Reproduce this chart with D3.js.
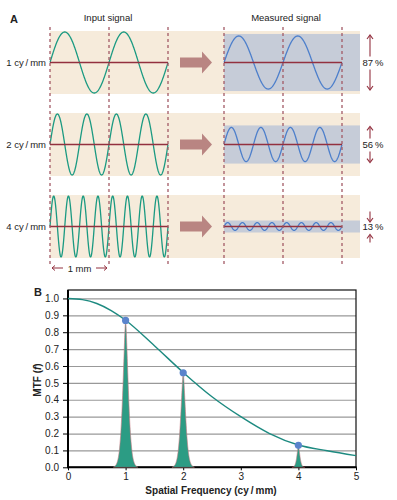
<!DOCTYPE html>
<meta charset="utf-8">
<style>
body { margin: 0; background: #fff; }
text { font-family: "Liberation Sans", Arial, sans-serif; fill: #222; }
.grid line { stroke: #999; stroke-width: 1.2px; }
.grid path { display: none; }
.axis path { display: none; }
.axis line { stroke: #000; }
</style>
<svg width="397" height="500"></svg>
<script src="https://cdn.jsdelivr.net/npm/d3@7"></script>
<script>
// ---- data ----
var freqs = [1, 2, 4];                        // cy/mm, rows of panel A
var rowLabels = ["1 cy\u2009/\u2009mm", "2 cy\u2009/\u2009mm", "4 cy\u2009/\u2009mm"];
var mtfAtFreq = [0.87, 0.56, 0.13];
var pctLabels = ["87\u2009%", "56\u2009%", "13\u2009%"];
var mtfX = [0, 0.25, 0.5, 0.75, 1, 1.5, 2, 2.5, 3, 3.5, 4, 4.5, 5];
var mtfY = [1.0, 0.993, 0.97, 0.928, 0.871, 0.72, 0.562, 0.418, 0.30, 0.20, 0.132, 0.098, 0.069];
var spikeWidth = [0.065, 0.06, 0.035];        // shape of the peaks in B
var yTicks = [0, 0.1, 0.2, 0.3, 0.4, 0.5, 0.6, 0.7, 0.8, 0.9, 1.0];
var xTicks = [0, 1, 2, 3, 4, 5];

var svg = d3.select("svg");
var teal = "#1b9a82", blue = "#4d7fcb", dark = "#93303f", dash = "#a35a66";

// ---- panel A ----
var xIn = d3.scaleLinear().domain([0, 2]).range([50, 168]);
var xOut = d3.scaleLinear().domain([0, 2]).range([224, 342]);
var rowY = d3.scalePoint().domain(freqs).range([62.5, 226.5]);
var amp = d3.scaleLinear().domain([-1, 1]).range([30.5, -30.5]);

svg.append("text").attr("x", 10).attr("y", 23).text("A")
  .style("font-weight", "bold").style("font-size", "11px");
svg.append("text").attr("x", 108).attr("y", 21).attr("text-anchor", "middle")
  .style("font-size", "9.5px").text("Input signal");
svg.append("text").attr("x", 286).attr("y", 21).attr("text-anchor", "middle")
  .style("font-size", "9.5px").text("Measured signal");

var rows = svg.selectAll(".row").data(freqs).enter().append("g").attr("class", "row");

rows.append("rect")
  .attr("x", 50).attr("width", 310)
  .attr("y", function(d) { return rowY(d) - 31.5; }).attr("height", 63)
  .attr("fill", "#f6ebdb");

rows.append("rect")
  .attr("x", 224).attr("width", 136)
  .attr("y", function(d, i) { return rowY(d) + amp(mtfAtFreq[i]) - Math.max(2, 6 - 30.5 * mtfAtFreq[i]); })
  .attr("height", function(d, i) { return 2 * (30.5 * mtfAtFreq[i] + Math.max(2, 6 - 30.5 * mtfAtFreq[i])); })
  .attr("fill", "#c6ccd8");

var t = d3.range(0, 2.0001, 0.005);

rows.append("path")
  .attr("fill", "none").attr("stroke", teal).attr("stroke-width", 1.3)
  .attr("d", function(f) {
    return d3.line().x(function(v) { return xIn(v); })
      .y(function(v) { return rowY(f) + amp(Math.sin(2 * Math.PI * f * v)) - amp(0); })(t);
  });

rows.append("path")
  .attr("fill", "none").attr("stroke", blue).attr("stroke-width", 1.3)
  .attr("d", function(f, i) {
    return d3.line().x(function(v) { return xOut(v); })
      .y(function(v) { return rowY(f) + amp(mtfAtFreq[i] * Math.sin(2 * Math.PI * f * v)) - amp(0); })(t);
  });

rows.append("line").attr("x1", xIn(0)).attr("x2", xIn(2))
  .attr("y1", function(d) { return rowY(d); }).attr("y2", function(d) { return rowY(d); })
  .attr("stroke", dark).attr("stroke-width", 1.3);
rows.append("line").attr("x1", xOut(0)).attr("x2", xOut(2))
  .attr("y1", function(d) { return rowY(d); }).attr("y2", function(d) { return rowY(d); })
  .attr("stroke", dark).attr("stroke-width", 1.3);

rows.append("text").attr("x", 46).attr("y", function(d) { return rowY(d) + 3.5; })
  .attr("text-anchor", "end").style("font-size", "9.5px")
  .text(function(d, i) { return rowLabels[i]; });

// big arrows
rows.append("path").attr("fill", "#b98582")
  .attr("d", function(d) {
    var c = rowY(d);
    return "M180," + (c - 5) + "H202V" + (c - 11) + "L212," + c + "L202," + (c + 11) + "V" + (c + 5) + "H180Z";
  });

// percent labels + small arrows
rows.append("text").attr("x", 373).attr("y", function(d) { return rowY(d) + 3.5; })
  .attr("text-anchor", "middle").style("font-size", "9.5px")
  .text(function(d, i) { return pctLabels[i]; });

function smallArrow(g, x, y1, y2) {
  // arrow from y1 to tip at y2
  var s = y2 > y1 ? 1 : -1;
  g.append("line").attr("x1", x).attr("x2", x).attr("y1", y1).attr("y2", y2 - s * 1)
    .attr("stroke", dark).attr("stroke-width", 1.1);
  g.append("path").attr("fill", "none").attr("stroke", dark).attr("stroke-width", 1.1)
    .attr("d", "M" + (x - 3) + "," + (y2 - s * 4) + "L" + x + "," + y2 + "L" + (x + 3) + "," + (y2 - s * 4));
}
rows.each(function(d, i) {
  var g = d3.select(this), c = rowY(d), a = 30.5 * mtfAtFreq[i] + Math.max(2, 6 - 30.5 * mtfAtFreq[i]);
  if (a > 12) {
    smallArrow(g, 370, c - 6, c - a + 1);
    smallArrow(g, 370, c + 7, c + a - 1);
  } else {
    smallArrow(g, 370, c - a - 9, c - a + 1.5);
    smallArrow(g, 370, c + a + 10, c + a + 2);
  }
});

// dashed mm markers
var marks = [0, 1, 2];
svg.selectAll(".dashIn").data(marks).enter().append("line")
  .attr("x1", function(d) { return xIn(d); }).attr("x2", function(d) { return xIn(d); })
  .attr("y1", 27).attr("y2", 264)
  .attr("stroke", dash).attr("stroke-width", 1.3).attr("stroke-dasharray", "3,3");
svg.selectAll(".dashOut").data(marks).enter().append("line")
  .attr("x1", function(d) { return xOut(d); }).attr("x2", function(d) { return xOut(d); })
  .attr("y1", 27).attr("y2", 264)
  .attr("stroke", dash).attr("stroke-width", 1.3).attr("stroke-dasharray", "3,3");

// 1 mm scale
var mm = svg.append("g");
mm.append("text").attr("x", (xIn(0) + xIn(1)) / 2).attr("y", 271.5).attr("text-anchor", "middle")
  .style("font-size", "9.5px").text("1 mm");
mm.append("line").attr("x1", xIn(0) + 2).attr("x2", xIn(0) + 13).attr("y1", 268).attr("y2", 268)
  .attr("stroke", dark).attr("stroke-width", 1);
mm.append("path").attr("fill", "none").attr("stroke", dark).attr("stroke-width", 1)
  .attr("d", "M" + (xIn(0) + 5) + ",265.5L" + (xIn(0) + 2) + ",268L" + (xIn(0) + 5) + ",270.5");
mm.append("line").attr("x1", xIn(1) - 13).attr("x2", xIn(1) - 2).attr("y1", 268).attr("y2", 268)
  .attr("stroke", dark).attr("stroke-width", 1);
mm.append("path").attr("fill", "none").attr("stroke", dark).attr("stroke-width", 1)
  .attr("d", "M" + (xIn(1) - 5) + ",265.5L" + (xIn(1) - 2) + ",268L" + (xIn(1) - 5) + ",270.5");

// ---- panel B ----
var x = d3.scaleLinear().domain([0, 5]).range([68, 356]);
var y = d3.scaleLinear().domain([0, 1.05]).range([467.3, 290]);

svg.append("text").attr("x", 34).attr("y", 296).text("B")
  .style("font-weight", "bold").style("font-size", "11px");

svg.append("g").attr("class", "grid")
  .attr("transform", "translate(68,0)")
  .call(d3.axisLeft(y).tickValues(yTicks.slice(1)).tickSize(-288).tickFormat(""));

svg.append("g").attr("class", "axis")
  .attr("transform", "translate(68,0)")
  .call(d3.axisLeft(y).tickValues(yTicks).tickSize(5).tickFormat(d3.format(".1f")))
  .selectAll("text").style("font-size", "10px").attr("dx", "-1");

svg.append("g").attr("class", "axis")
  .attr("transform", "translate(0,467.3)")
  .call(d3.axisBottom(x).tickValues(xTicks).tickSize(3).tickFormat(d3.format("d")))
  .selectAll("text").style("font-size", "10px");

// frame
svg.append("rect").attr("x", 68).attr("y", 290).attr("width", 288).attr("height", 177.3)
  .attr("fill", "none").attr("stroke", "#111").attr("stroke-width", 1.2);
svg.append("line").attr("x1", 68).attr("x2", 68).attr("y1", 290).attr("y2", 468)
  .attr("stroke", "#000").attr("stroke-width", 2);
svg.append("line").attr("x1", 67).attr("x2", 356.6).attr("y1", 467.3).attr("y2", 467.3)
  .attr("stroke", "#000").attr("stroke-width", 2);

// spikes
freqs.forEach(function(f, i) {
  var s = spikeWidth[i], h = mtfAtFreq[i];
  var pts = d3.range(-3.2 * s, 3.2 * s + 1e-9, s / 40);
  var area = d3.area()
    .x(function(u) { return x(f + u); })
    .y0(y(0))
    .y1(function(u) { return y(h * Math.exp(-Math.pow(Math.abs(u / s), 1.5))); });
  svg.append("path").datum(pts).attr("d", area)
    .attr("fill", "#2c9c84").attr("stroke", "#c7777f").attr("stroke-width", 0.6);
});

// MTF curve
var curve = d3.line().x(function(d, i) { return x(mtfX[i]); }).y(function(d) { return y(d); })
  .curve(d3.curveMonotoneX);
svg.append("path").datum(mtfY).attr("d", curve)
  .attr("fill", "none").attr("stroke", "#1d8a80").attr("stroke-width", 1.4);

svg.selectAll(".dot").data(freqs).enter().append("circle")
  .attr("cx", function(d) { return x(d); })
  .attr("cy", function(d, i) { return y(mtfAtFreq[i]); })
  .attr("r", 3.6).attr("fill", "#5b84cc");

// axis titles
svg.append("text").attr("x", 211).attr("y", 494).attr("text-anchor", "middle")
  .style("font-size", "10px").style("font-weight", "bold")
  .text("Spatial Frequency (cy\u2009/\u2009mm)");
var yt = svg.append("text").attr("transform", "translate(41,380) rotate(-90)")
  .attr("text-anchor", "middle").style("font-size", "10px").style("font-weight", "bold");
yt.append("tspan").text("MTF (");
yt.append("tspan").style("font-style", "italic").text("f");
yt.append("tspan").text(")");
</script>
